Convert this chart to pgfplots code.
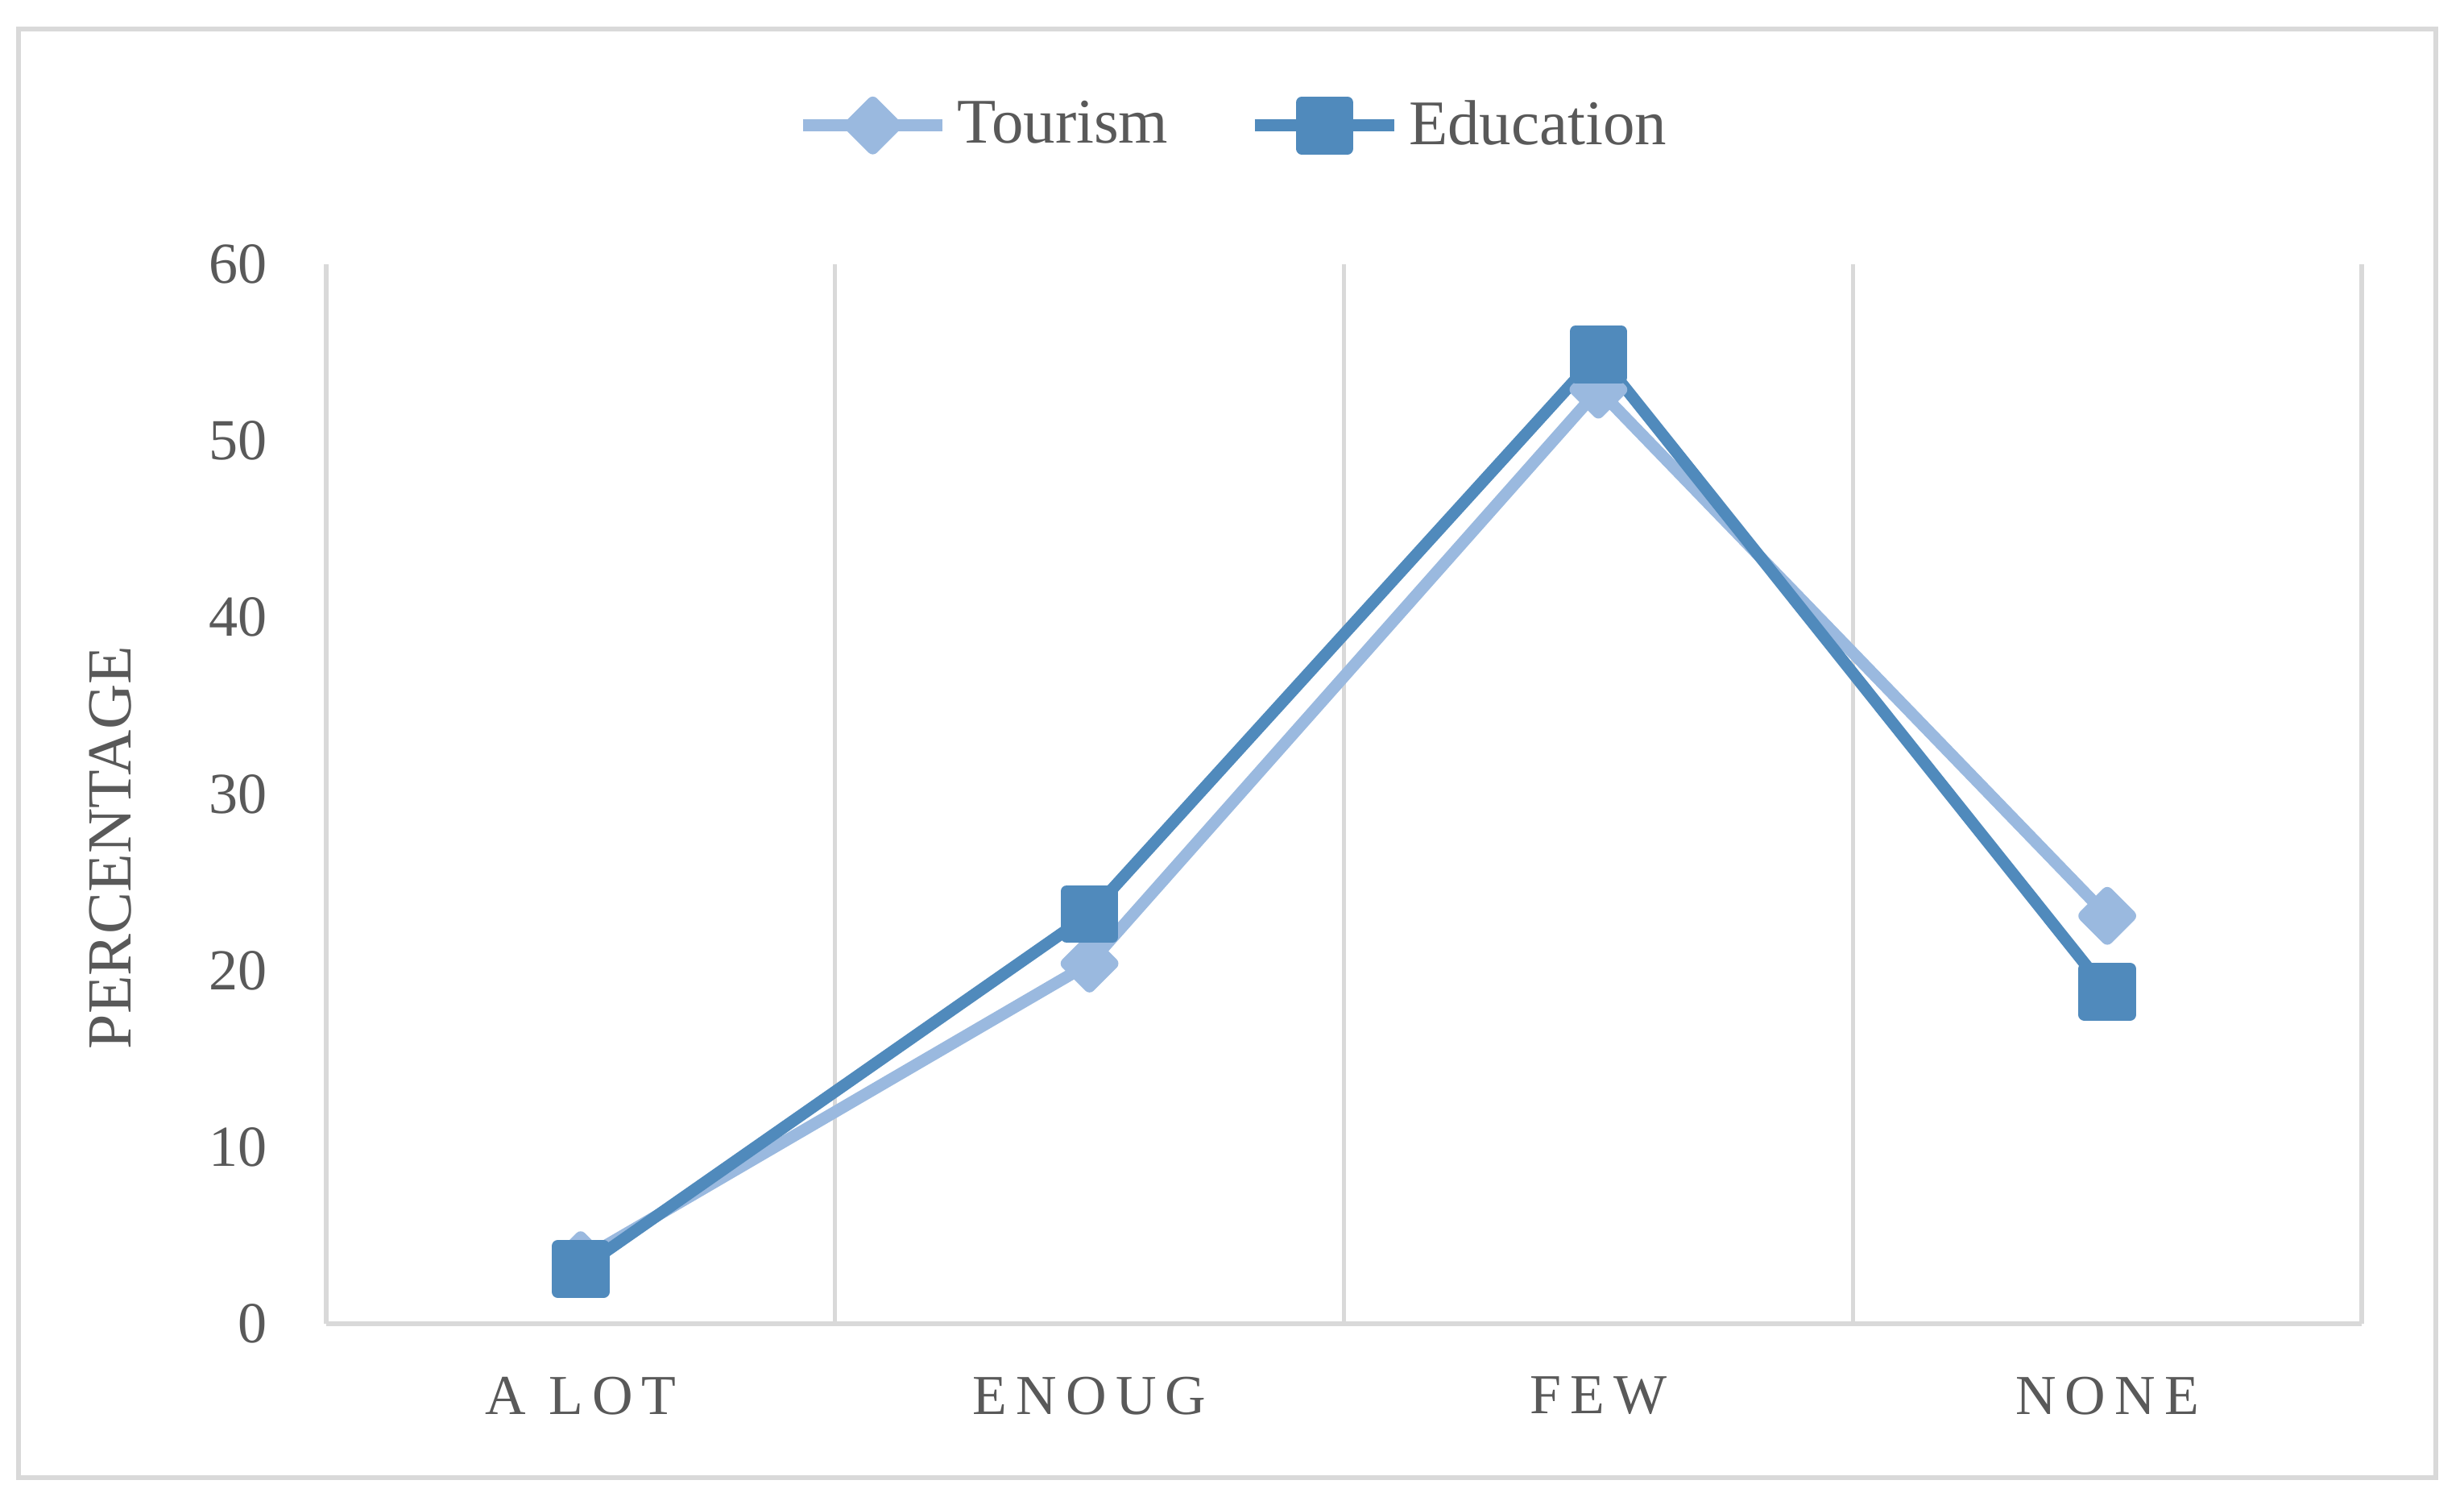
\documentclass[border=0pt]{standalone}
\usepackage{fontspec}
\setmainfont{Liberation Serif}
\newfontfamily\xlabfont[LetterSpace=16]{Liberation Serif}
\usepackage{pgfplots}
\pgfplotsset{compat=1.18}
\definecolor{tour}{HTML}{9AB9DF}
\definecolor{edu}{HTML}{508ABC}
\definecolor{txt}{HTML}{595959}
\definecolor{grd}{HTML}{D9D9D9}
\begin{document}
\begin{tikzpicture}
\useasboundingbox (-76.95pt,-41.61pt) rectangle (504.26pt,312.17pt);
\draw[grd, line width=1.3pt] (-72.58pt,-36.29pt) rectangle (497.61pt,305.33pt);
\begin{axis}[
  at={(0pt,0pt)}, anchor=south west,
  scale only axis, width=480.13pt, height=249.85pt,
  xmin=-0.5, xmax=3.5, ymin=0, ymax=60,
  xtick={0,1,2,3}, xticklabels={A LOT, ENOUG, FEW, NONE},
  minor xtick={-0.5,0.5,1.5,2.5,3.5},
  ytick={0,10,20,30,40,50,60},
  xminorgrids=true,
  minor x grid style={grd, line width=1pt},
  extra y ticks={0}, extra y tick labels={},
  extra y tick style={grid=major, major grid style={grd, line width=1.3pt}},
  axis line style={draw=none},
  major tick length=0pt, minor tick length=0pt,
  /pgf/number format/assume math mode=true,
  yticklabel style={font=\fontsize{13.7}{16}\selectfont, text=txt, xshift=-10.5pt},
  xticklabel style={font=\xlabfont\fontsize{13.3}{16}\selectfont, text=txt, yshift=-9pt},
  ylabel={PERCENTAGE},
  every axis y label/.style={at={(axis description cs:-0.1059,0.4494)}, anchor=center, rotate=90, font=\fontsize{14.8}{17}\selectfont, text=txt},
  legend style={at={(axis description cs:0.447,1.131)}, anchor=center, draw=none, fill=none,
    font=\fontsize{15}{18}\selectfont, text=txt, legend columns=2,
    /tikz/every even column/.append style={column sep=17pt},
    inner sep=0pt, nodes={inner sep=2pt}},
  legend image code/.code={\draw[mark repeat=2,mark phase=2,#1] plot coordinates {(0pt,0pt) (16.5pt,0pt) (33pt,0pt)};},
  clip=false,
]
\addplot[color=tour, line width=2.8pt, line join=round, mark=square*, mark size=3.83pt,
  mark options={rotate=45, solid, draw=none, fill=tour}]
  coordinates {(0,3.6) (1,20.4) (2,52.9) (3,23.1)};
\addlegendentry{Tourism}
\addplot[color=edu, line width=2.8pt, line join=round, mark=square*, mark size=5.4pt,
  mark options={solid, draw=none, fill=edu}]
  coordinates {(0,3.1) (1,23.2) (2,54.9) (3,18.8)};
\addlegendentry{Education}
\end{axis}
\end{tikzpicture}
\end{document}
